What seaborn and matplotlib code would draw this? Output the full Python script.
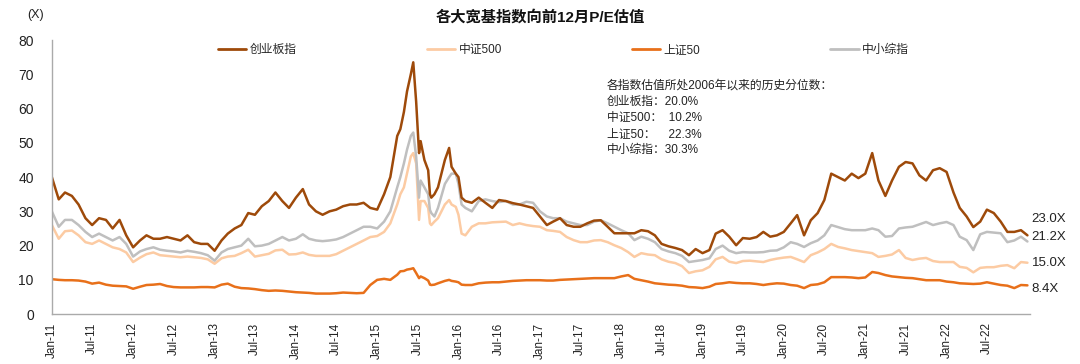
import matplotlib
matplotlib.use("Agg")
import matplotlib.pyplot as plt
import seaborn as sns
import pandas as pd
from matplotlib.lines import Line2D

# ---------------- data ----------------
monthly = pd.date_range("2011-01-01", "2015-03-01", freq="MS").strftime("%Y-%m-%d").tolist()
extra_2015 = ["2015-04-01", "2015-04-15", "2015-05-01", "2015-05-15", "2015-06-01", "2015-06-12",
              "2015-06-25", "2015-07-08", "2015-07-15", "2015-08-01", "2015-08-18", "2015-08-26",
              "2015-09-01", "2015-09-15", "2015-10-01", "2015-11-01", "2015-11-20", "2015-12-01",
              "2015-12-20", "2016-01-01", "2016-01-15"]
monthly_late = pd.date_range("2016-02-01", "2022-12-01", freq="MS").strftime("%Y-%m-%d").tolist()
dates = monthly + extra_2015 + monthly_late + ["2022-12-30"]

chinext = [40, 33.5, 35.5, 34.5, 32, 28, 26, 28, 27.5, 25, 27.5, 23,
           19.5, 21.5, 23, 22, 22, 22.5, 22, 21.5, 23, 21, 20.5, 20.5,
           18.5, 21.5, 23.5, 25, 26, 29.5, 29, 31.5, 33, 35.5, 33, 31,
           34, 36.5, 32, 30, 29, 30, 30.5, 31.5, 32, 32, 32.5, 31,
           30.5, 35, 40,
           52, 54, 59, 65, 70, 73.5, 62, 47, 50.5, 45, 42, 35, 34, 35, 37, 45, 48.5, 43, 41, 40, 34,
           33, 32.5, 34, 32.5, 31, 33.3, 33, 32.4, 32, 31.5, 31,
           28.5, 26, 27, 28, 26, 25.5, 25.5, 26.5, 27.3, 27.4, 25.5, 23.6,
           23.6, 23.6, 23.6, 24.5, 24.2, 23, 20.5, 19.8, 19.3, 18.7, 17.2, 19,
           17.8, 18.7, 23.5, 24.5, 22.6, 20.1, 22.2, 22, 22.5, 24, 22.6, 23,
           24, 26.5, 28.9, 23, 27.4, 29.5, 33.3, 41, 40, 39, 41, 39.7,
           41, 47, 39, 34.5, 39, 43, 44.4, 44, 40.5, 39, 42, 42.6,
           41.5, 35.5, 31, 28.5, 25.4, 27, 30.5, 29.5, 27, 24, 24, 24.5,
           23.0]

csi500 = [26, 22, 24.2, 24.4, 23, 21, 20.5, 21.5, 20.5, 19.5, 19, 18,
          15.2, 16.5, 17.5, 18, 17.2, 17, 16.8, 16.6, 16.8, 16.6, 16.4, 16,
          14.7, 16.3, 16.8, 17, 17.8, 18.8, 16.8, 17.2, 17.6, 18.6, 18.8, 17.4,
          17.5, 18, 17.3, 17, 17, 17, 17.5, 18.5, 19.5, 20.5, 21.5, 22.5,
          22.8, 24, 26.5,
          32, 35, 37, 41, 46, 47, 44, 27.5, 33, 33, 31, 26.5, 26, 27, 28, 32, 33.3, 32, 31.3, 29, 23.5,
          23, 25.5, 26.5, 26.5, 26.8, 26.9, 27, 26, 26.5, 26, 25.7,
          25.5, 24.5, 24.3, 24, 22.5, 21.6, 21, 21, 21.5, 21.6, 21, 20.1,
          19.3, 18.1, 16.7, 17.8, 17.4, 17.2, 16, 15.3, 14.9, 14, 12, 12.5,
          12.8, 13.8, 16, 16.7, 15.3, 14.9, 15.5, 15.6, 15.4, 15.2, 15.8, 16.2,
          16.5, 16.7, 16, 15.2, 17.2, 18, 19, 20.5, 19.6, 19.2, 18.7, 18.4,
          18.1, 17.8, 16.7, 17, 17.4, 18.7, 16.4, 15.8, 16.2, 16.4, 15.5, 15.2,
          15.2, 15.2, 13.8, 13.5, 12.2, 13.5, 13.7, 13.7, 14.1, 14.3, 13.4, 15.2,
          15.0]

sse50 = [10.2, 10, 9.9, 9.9, 9.8, 9.5, 8.9, 9.2, 8.6, 8.3, 8.2, 8.1,
         7.4, 8.0, 8.5, 8.6, 8.8, 8.2, 7.9, 7.8, 7.8, 7.8, 7.9, 7.9,
         7.8, 8.6, 8.9, 8.0, 7.6, 7.5, 7.3, 7.0, 6.8, 6.9, 6.8, 6.6,
         6.4, 6.3, 6.2, 6.0, 6.0, 6.0, 6.1, 6.3, 6.2, 6.1, 6.2, 8.5,
         10, 10.3, 10,
         11.5, 12.5, 12.6, 13, 13.2, 13.4, 12, 10.5, 11, 10.5, 9.8, 8.6, 8.5, 8.6, 9, 9.7, 10, 9.7, 9.5, 9.3, 8.6,
         8.5, 8.5, 9.0, 9.2, 9.3, 9.3, 9.5, 9.7, 9.8, 9.9, 9.9,
         9.9, 9.8, 9.8, 10, 10.1, 10.2, 10.3, 10.4, 10.5, 10.5, 10.5, 10.5,
         11, 11.4, 10.3, 9.9, 9.5, 9.0, 8.8, 8.6, 8.5, 8.3, 7.9, 7.8,
         7.6, 8.0, 8.8, 9.0, 9.3, 9.1, 9.0, 9.0, 8.8, 8.5, 8.8, 9.0,
         8.9, 8.5, 8.3, 7.6, 8.5, 8.7, 9.3, 10.8, 10.8, 10.8, 10.7, 10.5,
         10.7, 12.3, 12, 11.4, 11, 10.8, 10.6, 10.5, 10.2, 9.9, 9.9, 9.9,
         9.5, 9.3, 9.0, 8.9, 8.8, 8.9, 9.3, 8.9, 8.5, 8.3, 7.6, 8.5,
         8.4]

smallcap = [30, 25.5, 27.5, 27.5, 26, 24, 22.5, 23.5, 22.5, 21.5, 22.5, 20.5,
            16.8, 18.3, 19, 19.5, 18.8, 18.5, 18.3, 18, 18.5, 18.2, 17.8, 17.2,
            15.6, 18, 19, 19.5, 20, 22, 19.8, 20, 20.5, 21.5, 22.5, 21.5,
            22, 23.3, 22, 21.5, 21.3, 21.5, 21.8, 22.5, 23.5, 24.5, 25.5, 25.5,
            25, 27, 30,
            37, 40, 44, 48, 52, 53, 46, 34, 39, 37, 35, 30.4, 29.5, 28.5, 31, 38, 40, 41, 41, 38, 32,
            31, 30, 33, 33.5, 33, 32.7, 33, 32, 32, 32.8, 32.5,
            30, 28.5, 28, 28, 27, 26.5, 26, 26, 27, 27.4, 26.5, 25.5,
            24.5, 23.6, 21.6, 22.6, 22, 21, 19, 18.3, 17.8, 17, 15.2, 15.5,
            15.8, 16.3, 19, 20, 18.5, 17.8, 18.1, 18, 18, 18.1, 18.5, 18.6,
            19.5, 21, 20.5, 19.6, 20.7, 21.5, 23, 26, 25.4, 24.8, 24.5, 24.5,
            24.5, 25, 24.5, 22.6, 22.8, 25, 25.3, 25.5, 26.2, 26.9, 26, 26.5,
            26.9, 26, 22.6, 21.6, 18.7, 23.3, 24, 23.8, 23.6, 21, 21.5, 22.6,
            21.2]

series_names = ["创业板指", "中证500", "上证50", "中小综指"]
series_values = [chinext, csi500, sse50, smallcap]
end_labels = ["23.0X", "21.2X", "15.0X", "8.4X"]
end_label_y = [27.7, 22.5, 14.9, 7.3]
stats_lines = ["各指数估值所处2006年以来的历史分位数：",
               "创业板指：20.0%",
               "中证500：  10.2%",
               "上证50：    22.3%",
               "中小综指：30.3%"]
title = "各大宽基指数向前12月P/E估值"

# ---------------- build frame ----------------
frames = []
for name, vals in zip(series_names, series_values):
    frames.append(pd.DataFrame({"date": pd.to_datetime(dates), "value": vals, "series": name}))
df = pd.concat(frames, ignore_index=True)

colors = {"创业板指": "#9E4A0A", "中证500": "#FCCBA3", "上证50": "#E8701A", "中小综指": "#BFBFBF"}

sns.set_style("white")
plt.rcParams["font.family"] = ["Liberation Sans", "Noto Sans CJK SC", "DejaVu Sans"]

fig = plt.figure(figsize=(10.8, 3.64), dpi=100)
ax = fig.add_axes([0.048, 0.137, 0.906, 0.753])

draw_order = ["中证500", "中小综指", "上证50", "创业板指"]
for name in draw_order:
    sns.lineplot(data=df[df["series"] == name], x="date", y="value", color=colors[name],
                 linewidth=1.8, ax=ax, legend=False)

ax.set_ylim(0, 80)
ax.set_yticks(range(0, 81, 10))
ax.set_xlim(pd.Timestamp("2011-01-01"), pd.Timestamp("2023-01-12"))
ticks = pd.date_range("2011-01-01", "2022-07-01", freq="6MS")
ax.set_xticks(ticks)
ax.set_xticklabels([t.strftime("%b-%y") for t in ticks], rotation=90, fontsize=8.5, color="#222222")
ax.tick_params(axis="y", labelsize=10, colors="#222222", length=3, color="#999999", pad=10)
ax.tick_params(axis="x", length=3, color="#999999", pad=3)
ax.set_xlabel("")
ax.set_ylabel("")
for s in ["top", "right"]:
    ax.spines[s].set_visible(False)
for s in ["left", "bottom"]:
    ax.spines[s].set_color("#AAAAAA")
    ax.spines[s].set_linewidth(1.0)

# legend
handles = [Line2D([0], [0], color=colors[n], lw=2) for n in series_names]
ax.legend(handles, series_names, loc="center", bbox_to_anchor=(0.523, 0.964), ncol=4,
          frameon=False, fontsize=8.5, columnspacing=11.0, handlelength=2.4, handletextpad=0.3)

# stats text
for i, line in enumerate(stats_lines):
    fig.text(0.562, 0.765 - i * 0.044, line, fontsize=8.5, color="#222222", va="center")

# end labels
end_x = pd.Timestamp("2023-01-18")
for lab, yv in zip(end_labels, end_label_y):
    ax.text(end_x, yv, lab, fontsize=9.5, color="#222222", va="center", ha="left", clip_on=False)

fig.text(0.5, 0.953, title, fontsize=11, fontweight="bold", ha="center", va="center", color="#111111")
fig.text(0.033, 0.96, "(X)", fontsize=9, ha="center", va="center", color="#222222")

fig.savefig("out.png", dpi=100)
